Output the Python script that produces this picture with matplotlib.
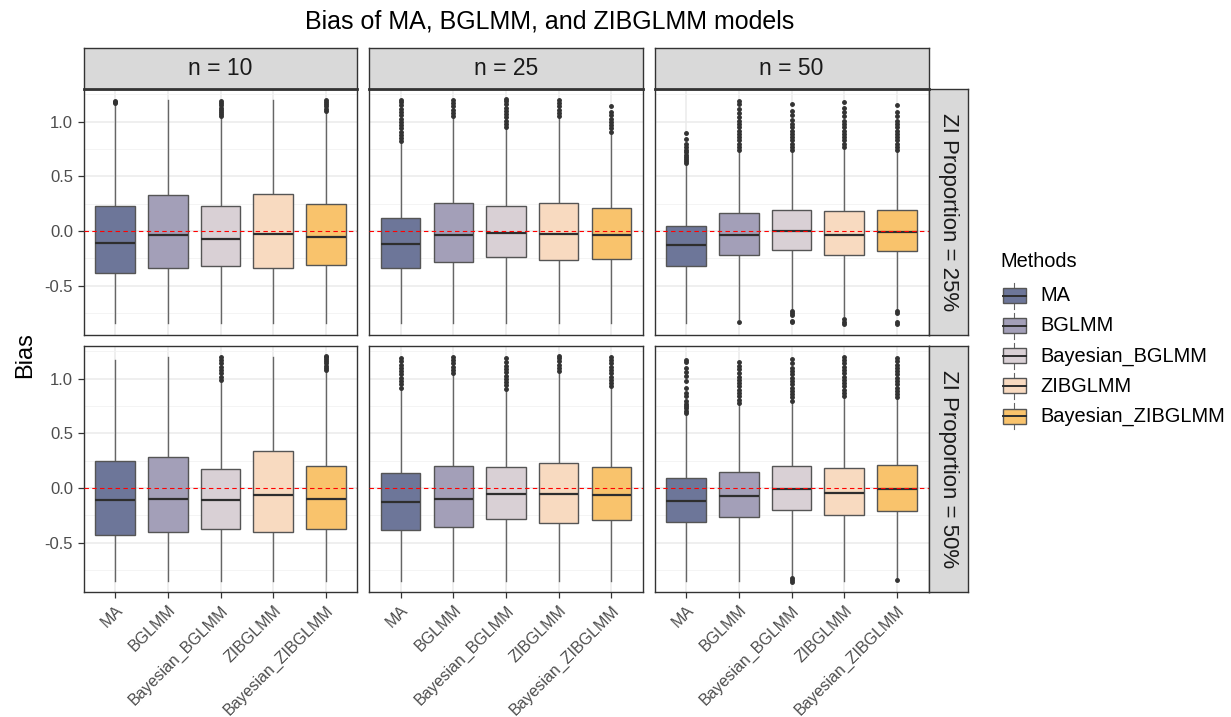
import matplotlib
matplotlib.use("Agg")
import matplotlib.pyplot as plt
from matplotlib.patches import Rectangle
from matplotlib.lines import Line2D

plt.rcParams['font.family'] = ['Liberation Sans', 'DejaVu Sans']

# ---------------- data ----------------
methods = ["MA", "BGLMM", "Bayesian_BGLMM", "ZIBGLMM", "Bayesian_ZIBGLMM"]
sample_sizes = ["n = 10", "n = 25", "n = 50"]
zi_labels = ["ZI Proportion = 25%", "ZI Proportion = 50%"]
method_colors = ["#6D7699", "#A39FB8", "#D9D0D5", "#F8DAC0", "#F9C36C"]

# ZI Proportion = 25%  (one list of 5 methods per sample size)
q1_zi25 = [[-0.384, -0.339, -0.320, -0.333, -0.311],
           [-0.339, -0.278, -0.235, -0.265, -0.256],
           [-0.317, -0.220, -0.174, -0.214, -0.180]]
med_zi25 = [[-0.104, -0.031, -0.070, -0.022, -0.058],
            [-0.116, -0.037, -0.018, -0.022, -0.037],
            [-0.125, -0.037, 0.000, -0.034, -0.010]]
q3_zi25 = [[0.232, 0.329, 0.229, 0.344, 0.250],
           [0.119, 0.253, 0.234, 0.259, 0.210],
           [0.051, 0.170, 0.192, 0.183, 0.195]]
lo_zi25 = [[-0.84, -0.84, -0.84, -0.84, -0.84],
           [-0.84, -0.84, -0.84, -0.84, -0.84],
           [-0.84, -0.80, -0.72, -0.78, -0.72]]
hi_zi25 = [[1.16, 1.20, 1.04, 1.20, 1.09],
           [0.81, 1.04, 0.94, 1.04, 0.90],
           [0.61, 0.73, 0.73, 0.76, 0.73]]
fliers_zi25 = [
    [[1.17, 1.18, 1.19],
     [],
     [1.05, 1.07, 1.09, 1.11, 1.13, 1.15, 1.17, 1.19],
     [],
     [1.10, 1.12, 1.14, 1.16, 1.18, 1.20]],
    [[0.82, 0.85, 0.88, 0.91, 0.94, 0.97, 1.00, 1.03, 1.06, 1.09, 1.12, 1.15, 1.18, 1.20],
     [1.05, 1.08, 1.11, 1.14, 1.17, 1.20],
     [0.95, 0.98, 1.01, 1.04, 1.07, 1.10, 1.13, 1.16, 1.19, 1.21],
     [1.05, 1.08, 1.11, 1.14, 1.17, 1.20],
     [0.91, 0.94, 0.97, 1.00, 1.03, 1.06, 1.09, 1.14]],
    [[0.62, 0.64, 0.66, 0.68, 0.70, 0.72, 0.74, 0.77, 0.80, 0.84, 0.90],
     [0.74, 0.77, 0.80, 0.83, 0.86, 0.89, 0.92, 0.95, 0.98, 1.01, 1.04, 1.08, 1.12, 1.16, 1.19, -0.83],
     [0.74, 0.77, 0.80, 0.83, 0.86, 0.89, 0.92, 0.95, 0.98, 1.02, 1.06, 1.10, 1.16,
      -0.73, -0.75, -0.77, -0.82, -0.83],
     [0.77, 0.80, 0.83, 0.86, 0.89, 0.92, 0.95, 0.98, 1.01, 1.05, 1.09, 1.13, 1.18,
      -0.80, -0.83, -0.85],
     [0.74, 0.77, 0.80, 0.83, 0.86, 0.89, 0.92, 0.95, 0.98, 1.01, 1.05, 1.09, 1.15,
      -0.73, -0.75, -0.83, -0.85]],
]

# ZI Proportion = 50%
q1_zi50 = [[-0.433, -0.400, -0.375, -0.403, -0.372],
           [-0.384, -0.360, -0.286, -0.323, -0.295],
           [-0.311, -0.268, -0.198, -0.250, -0.208]]
med_zi50 = [[-0.110, -0.098, -0.110, -0.061, -0.098],
            [-0.131, -0.100, -0.058, -0.055, -0.064],
            [-0.116, -0.073, -0.006, -0.049, -0.012]]
q3_zi50 = [[0.244, 0.281, 0.174, 0.336, 0.204],
           [0.140, 0.204, 0.195, 0.231, 0.195],
           [0.089, 0.149, 0.204, 0.186, 0.208]]
lo_zi50 = [[-0.85, -0.85, -0.85, -0.85, -0.85],
           [-0.85, -0.85, -0.85, -0.85, -0.85],
           [-0.85, -0.85, -0.81, -0.85, -0.82]]
hi_zi50 = [[1.17, 1.195, 0.98, 1.195, 1.07],
           [0.91, 1.04, 0.90, 1.06, 0.92],
           [0.68, 0.77, 0.79, 0.83, 0.82]]
fliers_zi50 = [
    [[],
     [],
     [0.99, 1.02, 1.05, 1.08, 1.11, 1.14, 1.17, 1.195],
     [],
     [1.08, 1.10, 1.12, 1.14, 1.16, 1.18, 1.20, 1.21]],
    [[0.92, 0.95, 0.98, 1.01, 1.04, 1.07, 1.10, 1.13, 1.16, 1.19],
     [1.05, 1.08, 1.11, 1.14, 1.17, 1.20],
     [0.91, 0.94, 0.97, 1.00, 1.03, 1.06, 1.09, 1.12, 1.15, 1.19],
     [1.07, 1.10, 1.13, 1.16, 1.19, 1.21],
     [0.93, 0.96, 0.99, 1.02, 1.05, 1.08, 1.11, 1.14, 1.17, 1.20]],
    [[0.69, 0.71, 0.73, 0.75, 0.77, 0.80, 0.84, 0.87, 0.92, 0.98, 1.03, 1.06, 1.10, 1.15, 1.17],
     [0.78, 0.81, 0.84, 0.87, 0.90, 0.93, 0.96, 0.99, 1.02, 1.05, 1.09, 1.12, 1.15],
     [0.80, 0.83, 0.86, 0.89, 0.92, 0.95, 0.98, 1.01, 1.04, 1.07, 1.10, 1.14, 1.18,
      -0.82, -0.84, -0.86],
     [0.84, 0.87, 0.90, 0.93, 0.96, 0.99, 1.02, 1.05, 1.08, 1.11, 1.14, 1.17, 1.20],
     [0.83, 0.86, 0.89, 0.92, 0.95, 0.98, 1.01, 1.04, 1.07, 1.10, 1.13, 1.16, 1.19, -0.84]],
]

y_ticks = [-0.5, 0.0, 0.5, 1.0]
y_tick_labels = ["-0.5", "0.0", "0.5", "1.0"]

# ---------------- layout ----------------
W, H = 1231, 717
fig = plt.figure(figsize=(W / 100, H / 100), dpi=100)
fig.patch.set_facecolor("white")

col_left = [83.5, 369.0, 654.5]
col_w = 274.0
row_top = [89.0, 346.0]
row_h = 246.0
strip_top = 48.0

def px_rect(x0, y0, w, h):
    return [x0 / W, 1 - (y0 + h) / H, w / W, h / H]

border = "#333333"
rows_data = [
    (q1_zi25, med_zi25, q3_zi25, lo_zi25, hi_zi25, fliers_zi25),
    (q1_zi50, med_zi50, q3_zi50, lo_zi50, hi_zi50, fliers_zi50),
]
positions = list(range(1, len(methods) + 1))

for r in range(2):
    q1s, meds, q3s, los, his, fls = rows_data[r]
    for c in range(3):
        ax = fig.add_axes(px_rect(col_left[c], row_top[r], col_w, row_h))
        ax.set_facecolor("white")
        stats = []
        for m in range(len(methods)):
            stats.append(dict(med=meds[c][m], q1=q1s[c][m], q3=q3s[c][m],
                              whislo=los[c][m], whishi=his[c][m],
                              fliers=fls[c][m], label=methods[m]))
        bp = ax.bxp(stats, positions=positions, widths=0.75, patch_artist=True,
                    showcaps=False, showfliers=True,
                    boxprops=dict(edgecolor="#555555", linewidth=1.0),
                    whiskerprops=dict(color="#666666", linewidth=1.0),
                    medianprops=dict(color="#2E2E2E", linewidth=1.6),
                    flierprops=dict(marker="o", markersize=2.5,
                                    markerfacecolor="#333333",
                                    markeredgecolor="#333333", linestyle="none"))
        for patch, col in zip(bp["boxes"], method_colors):
            patch.set_facecolor(col)
        for w in bp["whiskers"]:
            w.set_zorder(1)
        ax.axhline(0, color="red", linestyle=(0, (4, 3)), linewidth=0.8, zorder=5)
        ax.set_xlim(0.4, 5.6)
        ax.set_ylim(-0.95, 1.30)
        ax.set_yticks(y_ticks)
        ax.set_yticks([-0.75, -0.25, 0.25, 0.75, 1.25], minor=True)
        ax.set_xticks(positions)
        ax.grid(True, which="major", color="#EBEBEB", linewidth=1.1, zorder=0)
        ax.grid(True, which="minor", axis="y", color="#F2F2F2", linewidth=0.6, zorder=0)
        ax.set_axisbelow(True)
        ax.tick_params(which="minor", length=0)
        ax.tick_params(which="major", length=4, width=0.9, color="#333333",
                       labelcolor="#4D4D4D")
        if c == 0:
            ax.set_yticklabels(y_tick_labels, fontsize=12)
        else:
            ax.tick_params(axis="y", length=0, labelleft=False)
        if r == 1:
            ax.set_xticklabels(methods, rotation=45, ha="right", va="top",
                               rotation_mode="anchor", fontsize=11.5)
        else:
            ax.tick_params(axis="x", length=0, labelbottom=False)
        for s in ax.spines.values():
            s.set_color(border)
            s.set_linewidth(1.0)

        # right strip
        if c == 2:
            sax = fig.add_axes(px_rect(929.3, row_top[r], 38.4, row_h))
            sax.set_facecolor("#D9D9D9")
            sax.set_xticks([]); sax.set_yticks([])
            for s in sax.spines.values():
                s.set_color(border); s.set_linewidth(1.0)
            sax.text(0.5, 0.5, zi_labels[r], rotation=-90, ha="center", va="center",
                     fontsize=16, color="#1A1A1A", transform=sax.transAxes)

# top strips
for c in range(3):
    sax = fig.add_axes(px_rect(col_left[c], strip_top, col_w, row_top[0] - strip_top))
    sax.set_facecolor("#D9D9D9")
    sax.set_xticks([]); sax.set_yticks([])
    for s in sax.spines.values():
        s.set_color(border); s.set_linewidth(1.0)
    sax.spines["bottom"].set_linewidth(2.0)
    sax.text(0.5, 0.5, sample_sizes[c], ha="center", va="center",
             fontsize=16.5, color="#1A1A1A", transform=sax.transAxes)

# title and y label
fig.text(550 / W, 1 - 22 / H, "Bias of MA, BGLMM, and ZIBGLMM models",
         ha="center", va="center", fontsize=18, color="black")
fig.text(25 / W, 1 - 355 / H, "Bias", rotation=90, ha="center", va="center",
         fontsize=17, color="black")

# legend
lax = fig.add_axes(px_rect(990, 235, W - 990, 205))
lax.set_xlim(990, W)
lax.set_ylim(440, 235)
lax.axis("off")
lax.text(1000, 262, "Methods", ha="left", va="center", fontsize=14.4, color="black")
key_y = [295.7, 326.0, 356.0, 386.0, 416.0]
for name, col, yc in zip(methods, method_colors, key_y):
    lax.add_line(Line2D([1014, 1014], [yc - 13, yc + 13], color="#666666", linewidth=0.8))
    lax.add_patch(Rectangle((1002.5, yc - 7.5), 23, 15, facecolor=col,
                            edgecolor="#555555", linewidth=1.0, zorder=3))
    lax.add_line(Line2D([1002.5, 1025.5], [yc, yc], color="#2E2E2E", linewidth=1.4, zorder=4))
    lax.text(1040, yc, name, ha="left", va="center", fontsize=14.4, color="black")

fig.savefig("out.png", dpi=100, facecolor="white")
